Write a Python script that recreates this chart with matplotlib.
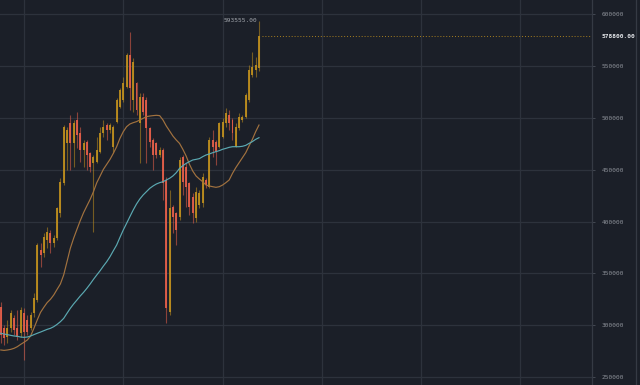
import numpy as np
import matplotlib.pyplot as plt
from matplotlib.lines import Line2D

# candle data (prices)
opens = [317800, 296900, 288800, 296900, 306500, 296900, 292100, 311400, 304900, 296900,
         311400, 324200, 372500, 369300, 382100, 388600, 378900, 383800, 407900, 436800,
         475400, 494800, 475400, 498000, 485100, 469000, 477100, 465800, 456100, 457800,
         467400, 485100, 493100, 488300, 472200, 496400, 510800, 517300, 530100, 560700,
         517300, 533400, 494800, 520500, 517300, 489900, 478700, 475400, 464200, 469000,
         440100, 313000, 414300, 407900, 404700, 462600, 452900, 436800, 424000, 403100,
         415900, 417500, 440100, 433600, 478700, 477100, 472200, 481900, 494800, 502800,
         498000, 472200, 489900, 498000, 501200, 517300, 541400, 546200, 547800]
highs = [322600, 300100, 304900, 314600, 309800, 314600, 317800, 316200, 309800, 313000,
         330700, 378900, 378900, 388600, 395000, 391800, 387000, 414300, 441700, 493100,
         491500, 502800, 498000, 506000, 491500, 478700, 478700, 467400, 464200, 481900,
         491500, 498000, 494800, 494800, 493100, 518900, 528500, 539800, 562300, 583200,
         557500, 535000, 523700, 523700, 520500, 491500, 480300, 477100, 472200, 470600,
         443300, 430400, 415900, 409500, 462600, 464200, 456100, 438400, 427200, 433600,
         430400, 446500, 441700, 481900, 488300, 478700, 496400, 499600, 509200, 507600,
         499600, 494800, 504400, 502800, 523700, 551100, 563900, 559100, 593555]
lows = [282400, 280800, 282400, 293700, 290400, 285600, 288800, 266300, 290400, 295300,
        308100, 322600, 356400, 366100, 374100, 369300, 375700, 382100, 404700, 435200,
        449700, 449700, 452900, 470600, 457800, 452900, 449700, 448100, 390200, 456100,
        465800, 481900, 478700, 485100, 465800, 494800, 509200, 515700, 528500, 507600,
        506000, 502800, 456100, 502800, 456100, 472200, 449700, 461000, 462600, 420800,
        301700, 309800, 388600, 377300, 401400, 425600, 414300, 406300, 398200, 399800,
        412700, 414300, 432000, 432000, 462600, 454500, 470600, 480300, 491500, 488300,
        478700, 472200, 488300, 496400, 499600, 515700, 539800, 539800, 545000]
closes = [290400, 287200, 296900, 311400, 295300, 288800, 314600, 293700, 293700, 309800,
          325800, 377300, 367700, 385400, 390200, 378900, 383800, 412700, 438400, 491500,
          488300, 475400, 494800, 483500, 469000, 475400, 464200, 452900, 462600, 469000,
          485100, 491500, 488300, 493100, 491500, 517300, 526900, 533400, 560700, 528500,
          554300, 507600, 520500, 506000, 489900, 477100, 464200, 464200, 469000, 436800,
          316200, 412700, 404700, 391800, 459400, 438400, 433600, 414300, 407900, 428800,
          427200, 443300, 435200, 478700, 472200, 467400, 494800, 496400, 504400, 494800,
          485100, 491500, 501200, 501200, 522100, 546200, 549400, 551100, 578800]

# moving averages
ma_fast = [276000, 275600, 276000, 276600, 277600, 279200, 281400, 283400, 285600, 289500,
           296900, 304900, 312300, 317200, 321700, 324900, 329100, 334500, 339700, 348400,
           361200, 374100, 383800, 392400, 400800, 408500, 415000, 421400, 428800, 437500,
           443900, 450400, 455200, 460000, 465800, 472200, 480300, 486700, 491500, 494100,
           495400, 496400, 498000, 499600, 501200, 501800, 502200, 502500, 502200, 498000,
           492200, 487400, 482500, 478700, 475400, 469700, 463200, 455200, 448700, 443900,
           441000, 438400, 435200, 434300, 433600, 433000, 433600, 435200, 437500, 440100,
           446500, 452000, 456800, 461600, 466400, 472900, 479300, 486700, 493100]
ma_slow = [292100, 291400, 290800, 290100, 289500, 289200, 288500, 288200, 288500, 289500,
           290800, 292100, 293300, 294600, 295900, 296900, 298500, 300700, 303300, 306500,
           311400, 316200, 320400, 324200, 328100, 331600, 335500, 339700, 344200, 348400,
           352500, 357000, 361200, 366100, 371800, 377300, 384700, 391800, 398200, 404700,
           411100, 416900, 421700, 425600, 428800, 432000, 434300, 436200, 437500, 438400,
           440100, 441700, 444000, 447100, 451300, 453900, 456100, 457800, 459400, 460000,
           460700, 462600, 464200, 465200, 466400, 467400, 468400, 469700, 470600, 471600,
           472200, 472200, 472200, 472600, 473500, 475400, 477100, 479300, 480900]

yticks = [250000, 300000, 350000, 400000, 450000, 500000, 550000, 600000]

bg = '#1b1f28'
up_col = '#c0901e'
dn_col = '#e8604a'
grid_col = '#2d323c'
txt_col = '#8d9199'

fig = plt.figure(figsize=(6.4, 3.85), dpi=100, facecolor=bg)
ax = fig.add_axes([0, 0, 591.5 / 640, 1], facecolor=bg)

idx = np.arange(len(closes))
o = np.array(opens)
c = np.array(closes)
up = c >= o
cols = np.where(up, up_col, dn_col)

ax.vlines(idx, lows, highs, colors=cols, linewidth=0.8, alpha=0.55, zorder=3)
ax.bar(idx, np.abs(c - o), bottom=np.minimum(o, c), width=0.6,
       color=cols, linewidth=0, alpha=0.9, zorder=4)

ax.plot(idx, ma_fast, color='#a2723f', linewidth=0.85, zorder=5)
ax.plot(idx, ma_slow, color='#5ba9b2', linewidth=0.85, zorder=5)

last = closes[-1]
ax.hlines(last, idx[-1] + 0.8, 178.5, colors=up_col, linestyles=(0, (1, 2)),
          linewidth=0.7, alpha=0.85, zorder=2)
ax.text(idx[-1] - 0.5, highs[-1], f'{highs[-1]:.2f}', ha='right', va='center',
        fontsize=4.4, family='DejaVu Sans Mono', color='#a3a7ae', zorder=6)

ax.set_xlim(-0.24, 178.46)
ax.set_ylim(242200, 613800)
ax.set_xticks([7, 37, 67, 97, 127, 157])
ax.set_xticklabels([])
ax.tick_params(axis='x', length=0)
ax.set_yticks(yticks)
ax.yaxis.tick_right()
ax.set_yticklabels([str(v) for v in yticks])
ax.tick_params(axis='y', colors='#4a505a', length=2.2, width=0.6, pad=5,
               labelsize=4.4, labelcolor=txt_col)
for lab in ax.get_yticklabels():
    lab.set_family('DejaVu Sans Mono')
ax.grid(True, color=grid_col, linewidth=0.9)
ax.set_axisbelow(True)
for s in ['top', 'left', 'bottom']:
    ax.spines[s].set_visible(False)
ax.spines['right'].set_color('#353a44')
ax.spines['right'].set_linewidth(0.9)

# current price label on the price axis
ax.annotate(f'{last:.2f}', xy=(1, last), xycoords=('axes fraction', 'data'),
            xytext=(7.5, 0), textcoords='offset points', ha='left', va='center',
            fontsize=4.4, family='DejaVu Sans Mono', color='#e6e8ec', fontweight='bold')

fig.add_artist(Line2D([636 / 640, 636 / 640], [0, 1], color='#353a44',
                      linewidth=0.9, transform=fig.transFigure))

fig.savefig('out.png', dpi=100, facecolor=bg)
